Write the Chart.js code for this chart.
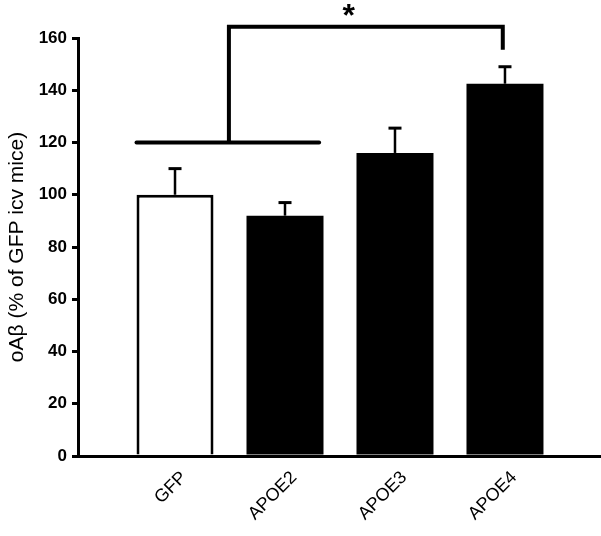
<!DOCTYPE html>
<html>
<head>
<meta charset="utf-8">
<script src="https://cdn.jsdelivr.net/npm/chart.js@4/dist/chart.umd.min.js"></script>
<style>
  body { margin: 0; background: #fff; }
  canvas { display: block; }
</style>
</head>
<body>
<canvas id="chart" width="601" height="536"></canvas>
<script>
// data
const categories = ['GFP', 'APOE2', 'APOE3', 'APOE4'];
const means = [100, 92, 116, 142.5];
const errTop = [110, 97, 125.5, 149];
const barColors = ['#ffffff', '#000000', '#000000', '#000000'];
const yTicks = [0, 20, 40, 60, 80, 100, 120, 140, 160];

// significance bracket, in data units
const sigLow = { from: 0.65, to: 2.31, y: 120 };
const sigTop = { from: 1.49, to: 3.98, y: 164.3, dropTo: 155.5 };
const sigLabel = '*';
const sigLabelX = 2.58;

const errorBars = {
    id: 'errorBars',
    afterDatasetsDraw(chart) {
        const ctx = chart.ctx;
        const xs = chart.scales.x, ys = chart.scales.y;
        ctx.save();
        ctx.strokeStyle = '#000';
        means.forEach((m, i) => {
            const x = xs.getPixelForValue(i + 1);
            const y0 = ys.getPixelForValue(m);
            const y1 = ys.getPixelForValue(errTop[i]);
            ctx.lineWidth = 2.5;
            ctx.beginPath();
            ctx.moveTo(x, y0);
            ctx.lineTo(x, y1);
            ctx.stroke();
            ctx.lineWidth = 3;
            ctx.beginPath();
            ctx.moveTo(x - 6.5, y1);
            ctx.lineTo(x + 6.5, y1);
            ctx.stroke();
        });
        ctx.restore();
    }
};

const bracket = {
    id: 'bracket',
    afterDraw(chart) {
        const ctx = chart.ctx;
        const xs = chart.scales.x, ys = chart.scales.y;
        ctx.save();
        ctx.strokeStyle = '#000';
        ctx.lineWidth = 4;
        ctx.lineCap = 'round';
        ctx.beginPath();
        ctx.moveTo(xs.getPixelForValue(sigLow.from), ys.getPixelForValue(sigLow.y));
        ctx.lineTo(xs.getPixelForValue(sigLow.to), ys.getPixelForValue(sigLow.y));
        ctx.stroke();

        ctx.lineCap = 'butt';
        ctx.lineJoin = 'miter';
        ctx.beginPath();
        ctx.moveTo(xs.getPixelForValue(sigTop.from), ys.getPixelForValue(sigLow.y));
        ctx.lineTo(xs.getPixelForValue(sigTop.from), ys.getPixelForValue(sigTop.y));
        ctx.lineTo(xs.getPixelForValue(sigTop.to), ys.getPixelForValue(sigTop.y));
        ctx.lineTo(xs.getPixelForValue(sigTop.to), ys.getPixelForValue(sigTop.dropTo));
        ctx.stroke();

        ctx.fillStyle = '#000';
        ctx.font = 'bold 32px "Liberation Sans", Arial, sans-serif';
        ctx.textAlign = 'center';
        ctx.textBaseline = 'alphabetic';
        ctx.fillText(sigLabel, xs.getPixelForValue(sigLabelX), 26);
        ctx.restore();
    }
};

new Chart(document.getElementById('chart').getContext('2d'), {
    type: 'bar',
    data: {
        datasets: [{
            data: categories.map((c, i) => ({ x: i + 1, y: means[i] })),
            backgroundColor: barColors,
            borderColor: '#000',
            borderWidth: [3, 0, 0, 0],
            barPercentage: 0.7,
            categoryPercentage: 1.0
        }]
    },
    options: {
        responsive: false,
        animation: false,
        events: [],
        layout: { padding: { top: 38, right: 0, left: 0, bottom: 0 } },
        plugins: { legend: { display: false }, tooltip: { enabled: false } },
        scales: {
            x: {
                type: 'linear',
                offset: false,
                min: 0.118,
                max: 4.873,
                afterBuildTicks: (scale) => { scale.ticks = categories.map((c, i) => ({ value: i + 1 })); },
                afterFit: (scale) => { scale.height = 80; },
                grid: { display: false, drawTicks: false, offset: false },
                border: { display: true, width: 3, color: '#000' },
                ticks: {
                    autoSkip: false,
                    minRotation: 45,
                    maxRotation: 45,
                    padding: 11,
                    labelOffset: 9,
                    color: '#000',
                    font: { family: '"Liberation Sans", Arial, sans-serif', size: 18 },
                    callback: (v) => categories[v - 1]
                }
            },
            y: {
                min: 0,
                max: 160,
                afterBuildTicks: (scale) => { scale.ticks = yTicks.map(v => ({ value: v })); },
                afterFit: (scale) => { scale.width = 78; },
                grid: { drawOnChartArea: false, drawTicks: true, tickLength: 6, lineWidth: 3, color: '#000' },
                border: { display: true, width: 3, color: '#000' },
                ticks: {
                    padding: 5,
                    color: '#000',
                    font: { family: '"Liberation Sans", Arial, sans-serif', size: 17, weight: 'bold' }
                },
                title: {
                    display: true,
                    text: 'oAβ (% of GFP icv mice)',
                    color: '#000',
                    padding: { top: 5, bottom: 0 },
                    font: { family: '"Liberation Sans", Arial, sans-serif', size: 21 }
                }
            }
        }
    },
    plugins: [errorBars, bracket]
});
</script>
</body>
</html>
